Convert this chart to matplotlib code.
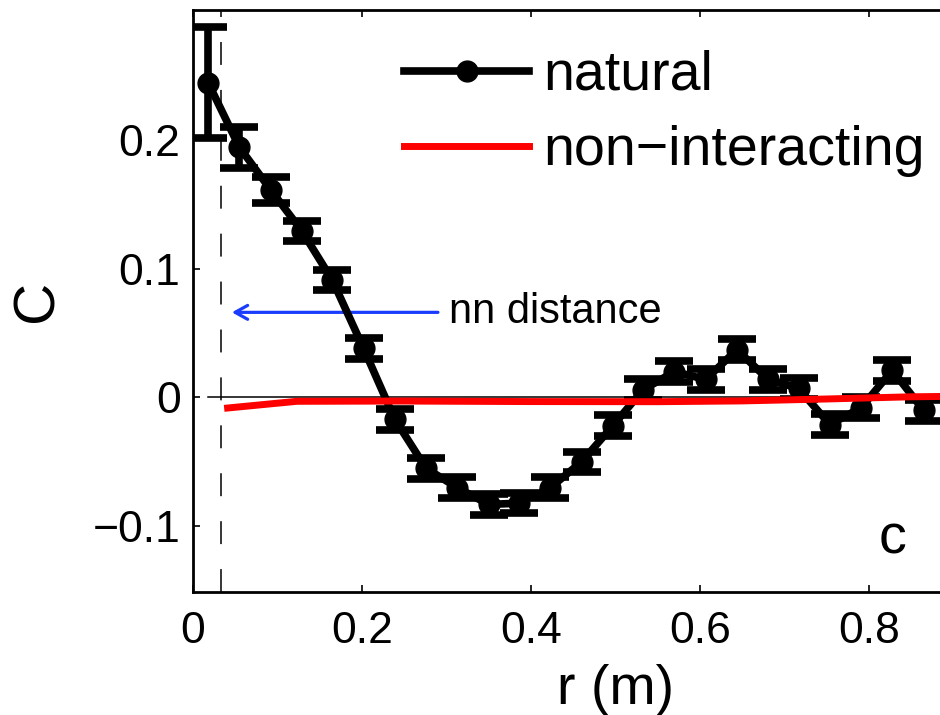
import matplotlib
matplotlib.use("Agg")

import matplotlib.pyplot as plt

plt.rcParams['font.family'] = ['Liberation Sans', 'DejaVu Sans']
plt.rcParams['lines.scale_dashes'] = False

# =====================================================
# Pair correlation C(r) - natural vs non-interacting
# =====================================================

# bin centres (m)
r = [0.018, 0.055, 0.092, 0.129, 0.165, 0.202, 0.239, 0.276,
     0.313, 0.350, 0.386, 0.423, 0.460, 0.497, 0.533, 0.570,
     0.607, 0.644, 0.681, 0.717, 0.754, 0.791, 0.828, 0.865]

c_natural = [0.244, 0.194, 0.161, 0.129, 0.091, 0.038, -0.017, -0.055,
             -0.070, -0.083, -0.082, -0.070, -0.050, -0.022, 0.006, 0.020,
             0.014, 0.037, 0.014, 0.007, -0.021, -0.008, 0.021, -0.010]

c_err = [0.043, 0.016, 0.010, 0.008, 0.008, 0.008, 0.008, 0.008,
         0.008, 0.008, 0.008, 0.008, 0.008, 0.008, 0.008, 0.008,
         0.008, 0.008, 0.008, 0.008, 0.008, 0.008, 0.008, 0.008]

r_free = [0.041, 0.123, 0.25, 0.40, 0.55, 0.65, 0.75, 0.85, 0.95]
c_free = [-0.0082, -0.0030, -0.0028, -0.0032, -0.0033, -0.0027, -0.0012, 0.0005, 0.0012]

nn_distance = 0.033

figure = plt.figure(figsize=(9.4, 7.15), dpi=100)

axes = figure.add_axes([193 / 940, 123 / 715, 844.6 / 940, 582 / 715])

# zero reference line
axes.plot([r[0], 1.0], [0, 0], color="black", lw=1.1, zorder=2)

# nearest-neighbour distance
axes.axvline(nn_distance, color="black", lw=1.1, linestyle=(0, (16.5, 18)), zorder=1)

natural = axes.errorbar(
    r,
    c_natural,
    yerr=c_err,
    fmt="-o",
    color="black",
    lw=5.5,
    ms=15,
    elinewidth=5.5,
    capsize=13.5,
    capthick=5.5,
    zorder=3
)

free_line, = axes.plot(r_free, c_free, color="red", lw=5, zorder=4)

axes.annotate(
    "",
    xy=(0.046, 0.066),
    xytext=(0.290, 0.066),
    arrowprops=dict(arrowstyle="->,head_length=0.9,head_width=0.5",
                    color="#1a3cff", lw=2.3, shrinkA=0, shrinkB=0)
)

axes.text(0.303, 0.066, "nn distance", fontsize=30, va="center", ha="left")

axes.text(0.828, -0.110, "c", fontsize=40, va="center", ha="center")

axes.legend(
    [natural.lines[0], free_line],
    ["natural", "non\u2212interacting"],
    loc="upper left",
    bbox_to_anchor=(404 / 940, 1 - 50 / 715),
    bbox_transform=figure.transFigure,
    frameon=False,
    fontsize=40,
    handlelength=2.25,
    handletextpad=0.25,
    labelspacing=0.42,
    borderaxespad=0,
    borderpad=0,
    numpoints=1
)

axes.set_xlim(0, 1.0)
axes.set_ylim(-0.1509, 0.3005)

axes.set_xticks([0, 0.2, 0.4, 0.6, 0.8])
axes.set_xticklabels(["0", "0.2", "0.4", "0.6", "0.8"])
axes.set_yticks([-0.1, 0, 0.1, 0.2])
axes.set_yticklabels(["\u22120.1", "0", "0.1", "0.2"])

axes.tick_params(direction="in", length=5, width=1.2, labelsize=32,
                 top=True, right=True)
axes.tick_params(axis="y", pad=9)
axes.tick_params(axis="x", pad=14)

for spine in axes.spines.values():
    spine.set_linewidth(2)

axes.set_xlabel("r (m)", fontsize=40, labelpad=8)
axes.set_ylabel("C", fontsize=42, labelpad=20)

figure.savefig("out.png", dpi=100)
